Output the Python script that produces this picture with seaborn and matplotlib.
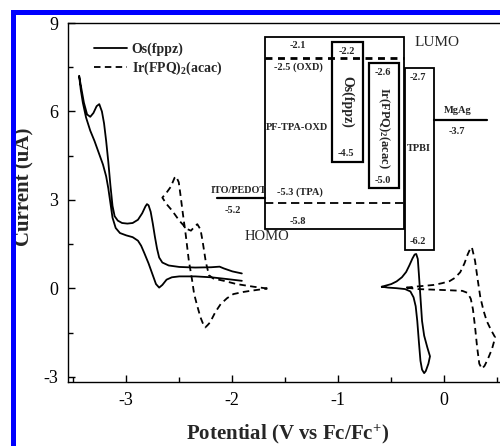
import matplotlib
matplotlib.use("Agg")
import matplotlib.pyplot as plt
from matplotlib.lines import Line2D
from matplotlib.patches import Rectangle
from matplotlib.ticker import MultipleLocator
import seaborn as sns

# ---- Cyclic voltammograms (potential in V vs Fc/Fc+, current in uA) ----
# Os(fppz): reduction scan (upper branch right->left, then lower branch back)
os_red_v = [-1.91, -2.00, -2.08, -2.12, -2.20, -2.35, -2.50, -2.60, -2.66, -2.69,
            -2.71, -2.73, -2.75, -2.77, -2.79, -2.805, -2.82, -2.85, -2.89, -2.94,
            -2.99, -3.04, -3.08, -3.11, -3.13, -3.15, -3.17, -3.19, -3.21, -3.23,
            -3.255, -3.28, -3.31, -3.34, -3.37, -3.40, -3.425, -3.445,
            -3.43, -3.41, -3.38, -3.34, -3.30, -3.26, -3.22, -3.19, -3.17, -3.15,
            -3.13, -3.10, -3.06, -3.00, -2.94, -2.89, -2.86, -2.83, -2.79, -2.75,
            -2.72, -2.69, -2.66, -2.62, -2.57, -2.50, -2.35, -2.20, -2.05, -1.91]
os_red_i = [0.51, 0.58, 0.68, 0.74, 0.72, 0.71, 0.73, 0.78, 0.88, 1.05,
            1.35, 1.75, 2.20, 2.60, 2.82, 2.86, 2.78, 2.55, 2.33, 2.22,
            2.20, 2.22, 2.30, 2.45, 2.80, 3.50, 4.30, 5.00, 5.60, 6.00,
            6.25, 6.18, 5.95, 5.82, 5.90, 6.30, 6.80, 7.21,
            6.75, 6.30, 5.80, 5.35, 5.00, 4.60, 4.20, 3.80, 3.40, 2.90,
            2.40, 2.05, 1.88, 1.80, 1.74, 1.62, 1.45, 1.20, 0.85, 0.45,
            0.15, 0.03, 0.12, 0.30, 0.38, 0.41, 0.41, 0.38, 0.32, 0.26]

# Os(fppz): oxidation scan
os_ox_v = [-0.59, -0.55, -0.50, -0.45, -0.40, -0.36, -0.33, -0.30, -0.28, -0.265,
           -0.25, -0.24, -0.225, -0.21, -0.19, -0.16, -0.135, -0.15, -0.175, -0.19,
           -0.21, -0.225, -0.24, -0.255, -0.27, -0.29, -0.32, -0.37, -0.45, -0.53, -0.59]
os_ox_i = [0.06, 0.10, 0.15, 0.24, 0.38, 0.56, 0.78, 1.02, 1.15, 1.17,
           1.00, 0.50, -0.30, -1.10, -1.60, -2.00, -2.30, -2.55, -2.80, -2.87,
           -2.75, -2.45, -1.80, -1.10, -0.60, -0.30, -0.10, -0.02, 0.01, 0.03, 0.06]

# Ir(FPQ)2(acac): reduction scan
ir_red_v = [-1.67, -1.80, -1.96, -2.08, -2.18, -2.22, -2.25, -2.28, -2.30, -2.33,
            -2.36, -2.39, -2.43, -2.50, -2.57, -2.62, -2.66, -2.62, -2.58, -2.545,
            -2.53, -2.505, -2.49, -2.465, -2.44, -2.41, -2.38, -2.36, -2.33, -2.30,
            -2.27, -2.255, -2.235, -2.21, -2.16, -2.11, -2.05, -1.99, -1.90, -1.83, -1.67]
ir_red_i = [0.00, 0.06, 0.15, 0.26, 0.34, 0.45, 0.90, 1.60, 2.00, 2.18,
            2.08, 1.96, 2.02, 2.30, 2.65, 2.86, 3.08, 3.25, 3.45, 3.75,
            3.80, 3.60, 3.20, 2.50, 1.84, 0.94, 0.30, -0.19, -0.60, -0.98,
            -1.25, -1.32, -1.25, -1.15, -0.80, -0.53, -0.33, -0.19, -0.12, -0.08, 0.00]

# Ir(FPQ)2(acac): oxidation scan
ir_ox_v = [-0.36, -0.25, -0.10, -0.02, 0.05, 0.10, 0.15, 0.19, 0.22, 0.245,
           0.26, 0.29, 0.315, 0.34, 0.37, 0.40, 0.44, 0.48, 0.45, 0.41,
           0.38, 0.355, 0.33, 0.31, 0.29, 0.27, 0.25, 0.22, 0.17, 0.05,
           -0.10, -0.25, -0.36]
ir_ox_i = [0.03, 0.07, 0.12, 0.18, 0.25, 0.36, 0.55, 0.85, 1.15, 1.35,
           1.40, 0.94, 0.30, -0.30, -0.75, -1.10, -1.40, -1.66, -2.05, -2.40,
           -2.62, -2.72, -2.55, -2.00, -1.30, -0.70, -0.35, -0.15, -0.08, -0.06,
           -0.04, -0.02, 0.03]

series_names = ["Os(fppz)", r"Ir(FPQ)$_\mathbf{2}$(acac)"]

# ---- Energy levels (eV) ----
pf_lumo, pf_homo = -2.1, -5.8
oxd_lumo, tpa_homo = -2.5, -5.3
os_lumo, os_homo = -2.2, -4.5
ir_lumo, ir_homo = -2.6, -5.0
tpbi_lumo, tpbi_homo = -2.7, -6.2
ito_level = -5.2
mgag_level = -3.7

# ---- Style ----
sns.set_style("ticks")
plt.rcParams["font.family"] = ["Liberation Serif", "DejaVu Serif"]
plt.rcParams["axes.unicode_minus"] = False
plt.rcParams["mathtext.fontset"] = "custom"
plt.rcParams["mathtext.rm"] = "Liberation Serif"
plt.rcParams["mathtext.bf"] = "Liberation Serif:bold"
plt.rcParams["mathtext.it"] = "Liberation Serif:italic"

W, H = 500, 446
fig = plt.figure(figsize=(W / 100, H / 100), dpi=100)
fig.patch.set_facecolor("white")

# axes box in pixels: left, right, top, bottom
AX_L, AX_R, AX_T, AX_B = 68, 502.6, 23, 382
rect = [AX_L / W, 1 - AX_B / H, (AX_R - AX_L) / W, (AX_B - AX_T) / H]
ax = fig.add_axes(rect)

LW = 1.3
DASH = (0, (3.6, 2.4))
sns.lineplot(x=os_red_v, y=os_red_i, sort=False, estimator=None, color="black",
             lw=LW, ax=ax)
sns.lineplot(x=os_ox_v, y=os_ox_i, sort=False, estimator=None, color="black",
             lw=LW, ax=ax)
sns.lineplot(x=ir_red_v, y=ir_red_i, sort=False, estimator=None, color="black",
             lw=LW, linestyle=DASH, ax=ax)
sns.lineplot(x=ir_ox_v, y=ir_ox_i, sort=False, estimator=None, color="black",
             lw=LW, linestyle=DASH, ax=ax)

ax.set_xlim(-3.55, 0.55)
ax.set_ylim(-3.17, 9)
ax.xaxis.set_major_locator(MultipleLocator(1))
ax.xaxis.set_minor_locator(MultipleLocator(0.5))
ax.yaxis.set_major_locator(MultipleLocator(3))
ax.yaxis.set_minor_locator(MultipleLocator(1.5))
ax.tick_params(which="both", direction="in", top=False, right=False,
               labelsize=13, width=1.0, color="black", labelcolor="black")
ax.tick_params(which="major", length=5, pad=7)
ax.tick_params(which="minor", length=3.5)
for s in ax.spines.values():
    s.set_linewidth(1.0)
    s.set_color("black")
ax.spines["right"].set_visible(False)

ax.set_xlabel(r"Potential (V vs Fc/Fc$^{\mathbf{+}}$)", fontsize=15, fontweight="bold",
              va="center")
ax.set_ylabel("Current (uA)", fontsize=15, fontweight="bold", va="center")
ax.xaxis.set_label_coords(0.505, -0.145)
ax.yaxis.set_label_coords(-0.101, 0.543)

handles = [Line2D([], [], color="black", lw=LW),
           Line2D([], [], color="black", lw=LW, linestyle=DASH)]
ax.legend(handles, series_names, loc="upper left", bbox_to_anchor=(0.06, 0.945),
          frameon=False, prop={"weight": "bold", "size": 10}, handlelength=2.4,
          handletextpad=0.3, labelspacing=0.25, borderpad=0, borderaxespad=0)

# ---- Energy-level diagram drawn on an overlay axes (y in eV) ----
ax_e = fig.add_axes(rect)
ax_e.set_xlim(AX_L, AX_R)
ax_e.set_ylim(-8.7365, -1.8327)
ax_e.axis("off")
ax_e.patch.set_alpha(0)

# horizontal extents (pixels from figure left)
PF_X = (265, 404)
OS_X = (332, 363)
IR_X = (369, 399)
TPBI_X = (405, 434)
MG_X = (434, 487)
ITO_X = (217, 265)


def box(xs, top, bottom, lw):
    ax_e.add_patch(Rectangle((xs[0], bottom), xs[1] - xs[0], top - bottom,
                             fill=False, ec="black", lw=lw))


box(PF_X, pf_lumo, pf_homo, 1.3)
box(OS_X, os_lumo, os_homo, 1.6)
box(IR_X, ir_lumo, ir_homo, 1.6)
box(TPBI_X, tpbi_lumo, tpbi_homo, 1.3)
ax_e.plot(PF_X, [oxd_lumo, oxd_lumo], color="black", lw=2.0, linestyle=(0, (2.5, 2.0)))
ax_e.plot(PF_X, [tpa_homo, tpa_homo], color="black", lw=1.3, linestyle=(0, (4.6, 2.6)))
ax_e.plot(MG_X, [mgag_level, mgag_level], color="black", lw=1.6)
ax_e.plot(ITO_X, [ito_level, ito_level], color="black", lw=1.6)


def label(text, x, level, dy, size=7.5, **kw):
    ax_e.annotate(text, (x, level), xytext=(0, dy), textcoords="offset pixels",
                  ha="center", va="center", fontsize=size, fontweight="bold", **kw)


label(f"{pf_lumo}", 298, pf_lumo, -9)
label(f"{oxd_lumo} (OXD)", 298, oxd_lumo, -9)
label(f"{os_lumo}", 347, os_lumo, -9)
label(f"{ir_lumo}", 383, ir_lumo, -10)
label(f"{tpbi_lumo}", 418, tpbi_lumo, -9)
label(f"{os_homo}", 346, os_homo, 8)
label(f"{ir_homo}", 383, ir_homo, 7)
label(f"{tpbi_homo}", 418, tpbi_homo, 9)
label(f"{tpa_homo} (TPA)", 300, tpa_homo, 11)
label(f"{pf_homo}", 298, pf_homo, 8)
label(f"{mgag_level}", 457, mgag_level, -11)
label("MgAg", 458, mgag_level, 10)
label(f"{ito_level}", 233, ito_level, -12)
label("ITO/PEDOT", 239, ito_level, 8, size=7.3)
label("PF-TPA-OXD", 297, (pf_lumo + pf_homo) / 2, 6, size=7.5)
label("TPBI", 419, (tpbi_lumo + tpbi_homo) / 2, 11, size=7.5)
label("Os(fppz)", 347, (os_lumo + os_homo) / 2, 0, size=10, rotation=-90)
label(r"Ir(FPQ)$_\mathbf{2}$(acac)", 384, (ir_lumo + ir_homo) / 2, -3, size=9,
      rotation=-90)

fig.text(437 / W, 1 - 42 / H, "LUMO", ha="center", va="center", fontsize=11)
fig.text(267 / W, 1 - 237 / H, "HOMO", ha="center", va="center", fontsize=10.5)

# blue frame around the figure
fig.patches.append(Rectangle((12.5 / W, -0.3), 1.5, 1.3 - 11.5 / H, fill=False,
                             ec=(0, 0, 1), lw=3.6, transform=fig.transFigure))

fig.savefig("out.png", dpi=100, facecolor="white")
